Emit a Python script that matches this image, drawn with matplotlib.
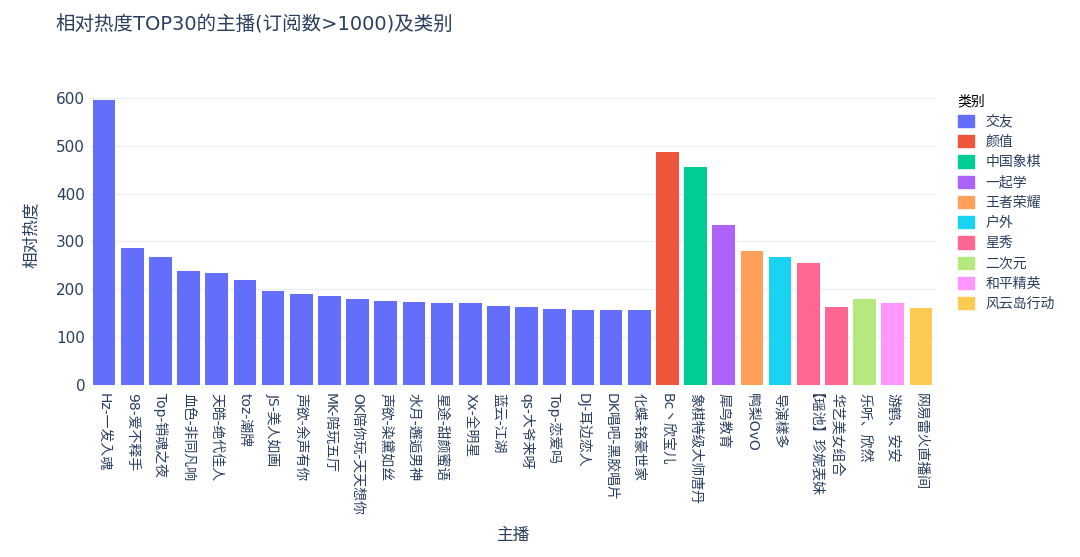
import matplotlib.pyplot as plt
from matplotlib import font_manager
from matplotlib.patches import Patch

cjk = [f for f in font_manager.findSystemFonts() if 'CJK' in f or 'cjk' in f.lower()]
fams = []
for f in cjk:
    try:
        font_manager.fontManager.addfont(f)
        fams.append(font_manager.FontProperties(fname=f).get_name())
    except Exception:
        pass
fams = sorted(set(fams), key=lambda n: (0 if 'SC' in n else 1, n))
plt.rcParams['font.family'] = ['DejaVu Sans'] + fams

# anchors, heat and category
names = ['Hz-一发入魂', '98-爱不释手', 'Top-销魂之夜', '血色-非同凡响', '天皓-绝代佳人', 'toz-潮牌',
         'JS-美人如画', '声欲-余声有你', 'MK-陪玩五厅', 'OK陪你玩-天天想你', '声欲-染黛如丝',
         '水月-邂逅男神', '星途-甜颜蜜语', 'Xx-全明星', '蓝云-江湖', 'qs-大爷来呀', 'Top-恋爱吗',
         'DJ-耳边恋人', 'DK唱吧-黑胶唱片', '化蝶-铭豪世家',
         'Bc丶欣宝儿', '象棋特级大师唐丹', '犀鸟教育', '鸭梨OvO', '导演樣多', '【瑶池】珍妮表妹',
         '华艺美女组合', '乐听、欣然', '游鹤、安安', '网易雷火直播间']
heat = [595, 287, 268, 238, 234, 219, 196, 191, 187, 179, 176, 173, 172, 172, 166, 164, 159,
        157, 156, 156, 488, 455, 334, 281, 268, 254, 163, 180, 171, 161]
cats = ['交友'] * 20 + ['颜值', '中国象棋', '一起学', '王者荣耀', '户外', '星秀', '星秀',
                       '二次元', '和平精英', '风云岛行动']
cat_order = ['交友', '颜值', '中国象棋', '一起学', '王者荣耀', '户外', '星秀', '二次元', '和平精英', '风云岛行动']
palette = ['#636efa', '#EF553B', '#00cc96', '#ab63fa', '#FFA15A', '#19d3f3', '#FF6692',
           '#B6E880', '#FF97FF', '#FECB52']
cmap = dict(zip(cat_order, palette))

fig = plt.figure(figsize=(10.8, 5.57), dpi=100)
ax = fig.add_axes([90 / 1080, 1 - 385 / 557, 845 / 1080, 300 / 557])
ax.bar(range(len(names)), heat, width=0.8, color=[cmap[c] for c in cats], zorder=3)
ax.set_xlim(-0.5, len(names) - 0.5)
ax.set_ylim(0, 627)
ax.set_yticks(range(0, 601, 100))
ax.set_xticks(range(len(names)))
ax.set_xticklabels(names, rotation=-90, fontsize=10, color='#2a3f5f')
ax.tick_params(axis='y', labelsize=11, colors='#2a3f5f', length=0)
ax.tick_params(axis='x', length=0, pad=6)
ax.grid(axis='y', color='#EBF0F8', linewidth=1, zorder=0)
for s in ax.spines.values():
    s.set_visible(False)
ax.set_ylabel('相对热度', fontsize=12, color='#2a3f5f', labelpad=12)
ax.set_xlabel('主播', fontsize=12, color='#2a3f5f')
ax.xaxis.set_label_coords(0.5, -0.47)

fig.text(55 / 1080, 1 - 25 / 557, '相对热度TOP30的主播(订阅数>1000)及类别', fontsize=14,
         color='#2a3f5f', va='center')
handles = [Patch(color=cmap[c]) for c in cat_order]
fig.legend(handles, cat_order, title='类别', loc='upper left', bbox_to_anchor=(945 / 1080, 1 - 82 / 557),
           frameon=False, fontsize=10, title_fontsize=10, handlelength=1.2, handleheight=1.0,
           labelspacing=0.45, labelcolor='#2a3f5f', alignment='left')

fig.savefig('out.png', dpi=100)
